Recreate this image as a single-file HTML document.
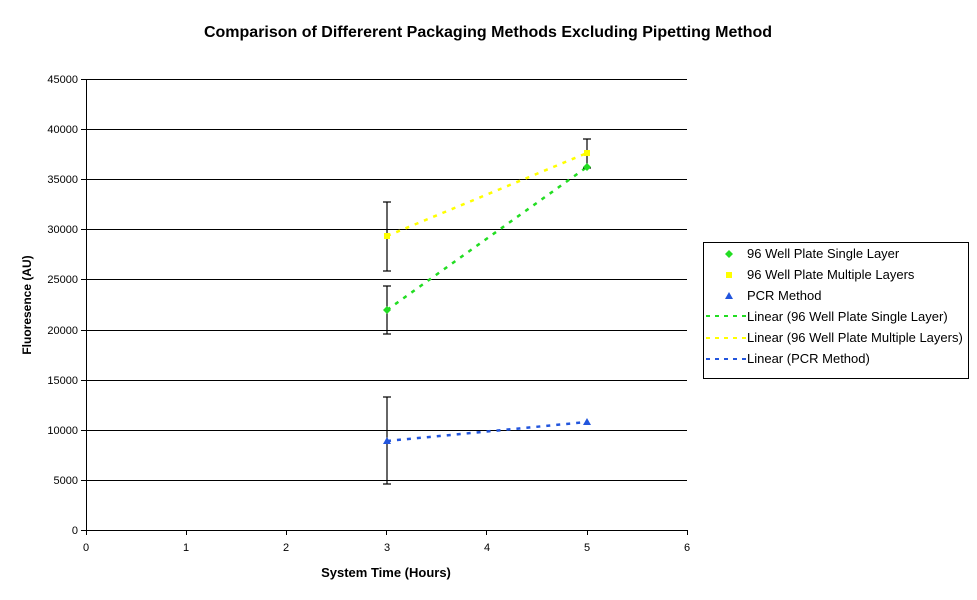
<!DOCTYPE html>
<html><head><style>body{margin:0;background:#fff}svg{display:block}text{font-family:"Liberation Sans",Arial,sans-serif}</style></head><body>
<svg width="977" height="600" viewBox="0 0 977 600" xmlns="http://www.w3.org/2000/svg">
<text x="488" y="37" font-size="16" font-weight="bold" text-anchor="middle">Comparison of Differerent Packaging Methods Excluding Pipetting Method</text>
<g stroke="#000" stroke-width="1">
<line x1="86" y1="79.5" x2="687" y2="79.5"/><line x1="86" y1="129.5" x2="687" y2="129.5"/><line x1="86" y1="179.5" x2="687" y2="179.5"/><line x1="86" y1="229.5" x2="687" y2="229.5"/><line x1="86" y1="279.5" x2="687" y2="279.5"/><line x1="86" y1="330.5" x2="687" y2="330.5"/><line x1="86" y1="380.5" x2="687" y2="380.5"/><line x1="86" y1="430.5" x2="687" y2="430.5"/><line x1="86" y1="480.5" x2="687" y2="480.5"/><line x1="86" y1="530.5" x2="687" y2="530.5"/>
<line x1="86.5" y1="79" x2="86.5" y2="535"/>
<line x1="81" y1="79.5" x2="86" y2="79.5"/><line x1="81" y1="129.5" x2="86" y2="129.5"/><line x1="81" y1="179.5" x2="86" y2="179.5"/><line x1="81" y1="229.5" x2="86" y2="229.5"/><line x1="81" y1="279.5" x2="86" y2="279.5"/><line x1="81" y1="330.5" x2="86" y2="330.5"/><line x1="81" y1="380.5" x2="86" y2="380.5"/><line x1="81" y1="430.5" x2="86" y2="430.5"/><line x1="81" y1="480.5" x2="86" y2="480.5"/><line x1="81" y1="530.5" x2="86" y2="530.5"/>
<line x1="186.5" y1="530" x2="186.5" y2="535"/><line x1="286.5" y1="530" x2="286.5" y2="535"/><line x1="386.5" y1="530" x2="386.5" y2="535"/><line x1="486.5" y1="530" x2="486.5" y2="535"/><line x1="587.5" y1="530" x2="587.5" y2="535"/><line x1="687.5" y1="530" x2="687.5" y2="535"/>
</g>
<g font-size="11" text-anchor="end">
<text x="78" y="83">45000</text><text x="78" y="133">40000</text><text x="78" y="183">35000</text><text x="78" y="233">30000</text><text x="78" y="283">25000</text><text x="78" y="334">20000</text><text x="78" y="384">15000</text><text x="78" y="434">10000</text><text x="78" y="484">5000</text><text x="78" y="534">0</text>
</g>
<g font-size="11" text-anchor="middle">
<text x="86" y="551">0</text><text x="186" y="551">1</text><text x="286" y="551">2</text><text x="387" y="551">3</text><text x="487" y="551">4</text><text x="587" y="551">5</text><text x="687" y="551">6</text>
</g>
<text x="386" y="577" font-size="13" font-weight="bold" text-anchor="middle">System Time (Hours)</text>
<text transform="translate(31,305) rotate(-90)" font-size="12" font-weight="bold" text-anchor="middle">Fluoresence (AU)</text>
<g stroke-width="2.5" stroke-dasharray="4,6" fill="none">
<line x1="387" y1="236" x2="587" y2="153" stroke="#ffff00"/>
<line x1="387" y1="310" x2="587" y2="167" stroke="#22dd22"/>
<line x1="387" y1="441" x2="587" y2="422" stroke="#2255dd"/>
</g>
<g stroke="#000" stroke-width="1.2">
<line x1="387" y1="202" x2="387" y2="271"/><line x1="383" y1="202" x2="391" y2="202"/><line x1="383" y1="271" x2="391" y2="271"/>
<line x1="387" y1="286" x2="387" y2="334"/><line x1="383" y1="286" x2="391" y2="286"/><line x1="383" y1="334" x2="391" y2="334"/>
<line x1="387" y1="397" x2="387" y2="484"/><line x1="383" y1="397" x2="391" y2="397"/><line x1="383" y1="484" x2="391" y2="484"/>
<line x1="587" y1="139" x2="587" y2="168"/><line x1="583" y1="139" x2="591" y2="139"/><line x1="583" y1="168" x2="591" y2="168"/>
</g>
<rect x="384" y="233" width="6" height="6" fill="#ffff00"/><rect x="584" y="150" width="6" height="6" fill="#ffff00"/>
<polygon points="387,306 391,310 387,314 383,310" fill="#22dd22"/><polygon points="587,163 591,167 587,171 583,167" fill="#22dd22"/>
<polygon points="387,437 391,444 383,444" fill="#2255dd"/><polygon points="587,418 591,425 583,425" fill="#2255dd"/>
<rect x="703.5" y="242.5" width="265" height="136" fill="#fff" stroke="#000"/>
<polygon points="729,250 733,254 729,258 725,254" fill="#22dd22"/>
<rect x="726" y="272" width="6" height="6" fill="#ffff00"/>
<polygon points="729,292 733,299 725,299" fill="#2255dd"/>
<g stroke-width="2" stroke-dasharray="4,5">
<line x1="706" y1="316" x2="746" y2="316" stroke="#22dd22"/>
<line x1="706" y1="338" x2="746" y2="338" stroke="#ffff00"/>
<line x1="706" y1="359" x2="746" y2="359" stroke="#2255dd"/>
</g>
<g font-size="13">
<text x="747" y="258">96 Well Plate Single Layer</text>
<text x="747" y="279">96 Well Plate Multiple Layers</text>
<text x="747" y="300">PCR Method</text>
<text x="747" y="321">Linear (96 Well Plate Single Layer)</text>
<text x="747" y="342">Linear (96 Well Plate Multiple Layers)</text>
<text x="747" y="363">Linear (PCR Method)</text>
</g>
</svg>
</body></html>
